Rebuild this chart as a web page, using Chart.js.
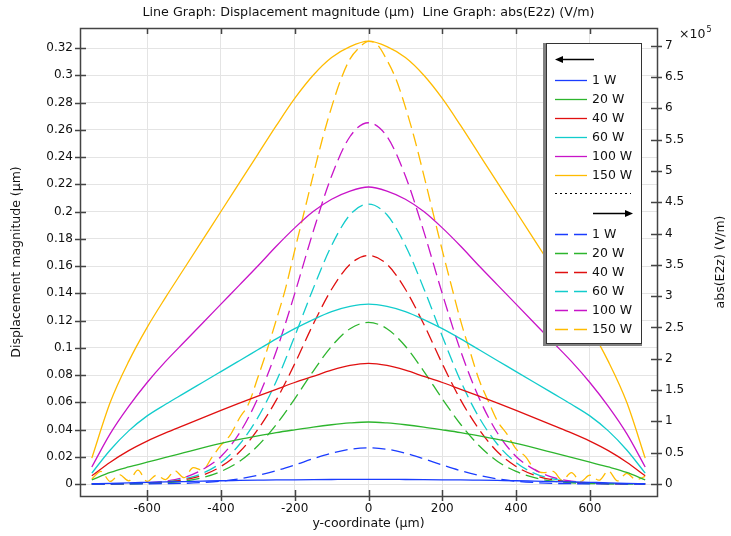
<!DOCTYPE html>
<html lang="en">
<head>
<meta charset="UTF-8">
<title>Line Graph: Displacement magnitude / abs(E2z)</title>
<script src="https://cdn.jsdelivr.net/npm/chart.js"></script>
<style>
  html, body { margin: 0; padding: 0; background: #fff; }
  #wrap { width: 731px; height: 536px; }
</style>
</head>
<body>
<div id="wrap"><canvas id="chart" width="731" height="536"></canvas></div>
<script>
// ---- data ----
const powers = ['1 W', '20 W', '40 W', '60 W', '100 W', '150 W'];
const colors = ['#1a3cff', '#2db52d', '#e01010', '#12cccc', '#c814c8', '#ffbb00'];

const yPos = [-750, -700, -650, -600, -550, -500, -450, -400, -350, -300, -250, -200, -150, -100, -50, 0,
              50, 100, 150, 200, 250, 300, 350, 400, 450, 500, 550, 600, 650, 700, 750];
const yPosFine = [-750, -725, -700, -675, -650, -625, -600, -575, -550, -525, -500, -475, -450, -425, -400, -375,
                  -350, -325, -300, -275, -250, -225, -200, -175, -150, -125, -100, -75, -50, -25, 0,
                  25, 50, 75, 100, 125, 150, 175, 200, 225, 250, 275, 300, 325, 350, 375, 400, 425, 450,
                  475, 500, 525, 550, 575, 600, 625, 650, 675, 700, 725, 750];

// displacement magnitude (um), left axis
const disp1W   = [0.0002, 0.0005, 0.0009, 0.0012, 0.0015, 0.0018, 0.0021, 0.0024, 0.0026, 0.0028, 0.0030, 0.0031, 0.0032, 0.0033, 0.0034, 0.0034,
                  0.0034, 0.0033, 0.0032, 0.0031, 0.0030, 0.0028, 0.0026, 0.0024, 0.0021, 0.0018, 0.0015, 0.0012, 0.0009, 0.0005, 0.0002];
const disp20W  = [0.003, 0.0085, 0.0125, 0.016, 0.0195, 0.023, 0.0265, 0.0298, 0.0327, 0.0353, 0.0377, 0.0398, 0.0418, 0.0435, 0.0448, 0.0455,
                  0.0448, 0.0435, 0.0418, 0.0398, 0.0377, 0.0353, 0.0327, 0.0298, 0.0265, 0.023, 0.0195, 0.016, 0.0125, 0.0085, 0.003];
const disp40W  = [0.006, 0.016, 0.0245, 0.0315, 0.0375, 0.043, 0.0485, 0.054, 0.0593, 0.0645, 0.0695, 0.0745, 0.079, 0.0835, 0.087, 0.0885,
                  0.087, 0.0835, 0.079, 0.0745, 0.0695, 0.0645, 0.0593, 0.054, 0.0485, 0.043, 0.0375, 0.0315, 0.0245, 0.016, 0.006];
const disp60W  = [0.008, 0.025, 0.039, 0.050, 0.0585, 0.0665, 0.0745, 0.0825, 0.0905, 0.0985, 0.1065, 0.114, 0.1207, 0.1265, 0.1303, 0.132,
                  0.1303, 0.1265, 0.1207, 0.114, 0.1065, 0.0985, 0.0905, 0.0825, 0.0745, 0.0665, 0.0585, 0.050, 0.039, 0.025, 0.008];
const disp100W = [0.0125, 0.037, 0.057, 0.0745, 0.090, 0.104, 0.118, 0.132, 0.146, 0.160, 0.1745, 0.188, 0.200, 0.209, 0.215, 0.218,
                  0.215, 0.209, 0.200, 0.188, 0.1745, 0.160, 0.146, 0.132, 0.118, 0.104, 0.090, 0.0745, 0.057, 0.037, 0.0125];
const disp150W = [0.019, 0.060, 0.090, 0.115, 0.137, 0.158, 0.179, 0.200, 0.221, 0.242, 0.263, 0.283, 0.300, 0.313, 0.321, 0.325,
                  0.321, 0.313, 0.300, 0.283, 0.263, 0.242, 0.221, 0.200, 0.179, 0.158, 0.137, 0.115, 0.090, 0.060, 0.019];

// abs(E2z) in units of 1e5 V/m, right axis
const e1W   = [0, 0, 0.001, 0.002, 0.005, 0.010, 0.023, 0.044, 0.081, 0.137, 0.212, 0.304, 0.403, 0.492, 0.555, 0.577,
               0.555, 0.492, 0.403, 0.304, 0.212, 0.137, 0.081, 0.044, 0.023, 0.010, 0.005, 0.002, 0.001, 0, 0];
const e20W  = [0, 0.001, 0.003, 0.008, 0.020, 0.046, 0.10, 0.20, 0.36, 0.61, 0.95, 1.36, 1.80, 2.20, 2.48, 2.58,
               2.48, 2.20, 1.80, 1.36, 0.95, 0.61, 0.36, 0.20, 0.10, 0.046, 0.020, 0.008, 0.003, 0.001, 0];
const e40W  = [0, 0.001, 0.004, 0.012, 0.029, 0.066, 0.14, 0.28, 0.51, 0.87, 1.34, 1.92, 2.55, 3.11, 3.51, 3.65,
               3.51, 3.11, 2.55, 1.92, 1.34, 0.87, 0.51, 0.28, 0.14, 0.066, 0.029, 0.012, 0.004, 0.001, 0];
const e60W  = [0, 0.002, 0.005, 0.014, 0.035, 0.080, 0.17, 0.34, 0.63, 1.06, 1.64, 2.36, 3.12, 3.81, 4.30, 4.47,
               4.30, 3.81, 3.12, 2.36, 1.64, 1.06, 0.63, 0.34, 0.17, 0.080, 0.035, 0.014, 0.005, 0.002, 0];
const e100W = [0.001, 0.002, 0.007, 0.018, 0.046, 0.104, 0.23, 0.44, 0.81, 1.37, 2.12, 3.04, 4.03, 4.92, 5.55, 5.77,
               5.55, 4.92, 4.03, 3.04, 2.12, 1.37, 0.81, 0.44, 0.23, 0.104, 0.046, 0.018, 0.007, 0.002, 0.001];
const e150W = [0.08, 0.20, 0.04, 0.15, 0.05, 0.22, 0.04, 0.14, 0.07, 0.21, 0.10, 0.26, 0.22, 0.42, 0.62, 0.78,
               1.05, 1.28, 1.70, 2.14, 2.62, 3.12, 3.73, 4.33, 4.93, 5.51, 6.02, 6.46, 6.79, 6.97, 7.07,
               7.01, 6.77, 6.46, 6.02, 5.51, 4.93, 4.33, 3.73, 3.16, 2.60, 2.12, 1.66, 1.32, 1.00, 0.80, 0.56, 0.44, 0.24,
               0.18, 0.20, 0.06, 0.18, 0.04, 0.14, 0.06, 0.21, 0.05, 0.17, 0.07, 0.12];

const xTicks = [-600, -400, -200, 0, 200, 400, 600];
const leftTicks = [0, 0.02, 0.04, 0.06, 0.08, 0.1, 0.12, 0.14, 0.16, 0.18, 0.2, 0.22, 0.24, 0.26, 0.28, 0.3, 0.32];
const rightTicks = [0, 0.5, 1, 1.5, 2, 2.5, 3, 3.5, 4, 4.5, 5, 5.5, 6, 6.5, 7];

const FONT = 'DejaVu Sans';
const DASH = [13, 6];

function pts(xs, ys) { return xs.map((x, i) => ({ x: x, y: ys[i] })); }

const solidSets = [disp1W, disp20W, disp40W, disp60W, disp100W, disp150W];
const dashSets = [e1W, e20W, e40W, e60W, e100W];

const datasets = [];
solidSets.forEach((d, i) => datasets.push({
    label: powers[i], data: pts(yPos, d), yAxisID: 'y',
    borderColor: colors[i], borderWidth: 1.3
}));
dashSets.forEach((d, i) => datasets.push({
    label: powers[i], data: pts(yPos, d), yAxisID: 'y1',
    borderColor: colors[i], borderWidth: 1.3, borderDash: DASH
}));
datasets.push({
    label: powers[5], data: pts(yPosFine, e150W), yAxisID: 'y1',
    borderColor: colors[5], borderWidth: 1.3, borderDash: DASH
});

// frame, inner ticks, titles and the boxed legend
const decor = {
    id: 'decor',
    afterDraw(chart) {
        const { ctx, chartArea: a, scales } = chart;
        ctx.save();
        ctx.strokeStyle = '#444';
        ctx.lineWidth = 1.5;
        ctx.beginPath();
        xTicks.forEach(v => {
            const px = Math.round(scales.x.getPixelForValue(v)) + 0.5;
            ctx.moveTo(px, a.bottom + 5); ctx.lineTo(px, a.bottom - 6);
            ctx.moveTo(px, a.top); ctx.lineTo(px, a.top + 6);
        });
        leftTicks.forEach(v => {
            const py = Math.round(scales.y.getPixelForValue(v)) + 0.5;
            ctx.moveTo(a.left - 5, py); ctx.lineTo(a.left + 6, py);
        });
        rightTicks.forEach(v => {
            const py = Math.round(scales.y1.getPixelForValue(v)) + 0.5;
            ctx.moveTo(a.right - 6, py); ctx.lineTo(a.right + 5, py);
        });
        ctx.stroke();
        ctx.strokeRect(a.left + 0.5, a.top + 0.5, a.right - a.left, a.bottom - a.top);

        // titles
        const cx = (a.left + a.right) / 2, cy = (a.top + a.bottom) / 2;
        ctx.fillStyle = '#111';
        ctx.textAlign = 'center';
        ctx.textBaseline = 'middle';
        ctx.font = '12.7px ' + FONT;
        ctx.fillText('Line Graph: Displacement magnitude (\u00b5m)  Line Graph: abs(E2z) (V/m)', cx, 13);
        ctx.font = '12.5px ' + FONT;
        ctx.fillText('y-coordinate (\u00b5m)', cx, 524);
        ctx.save();
        ctx.translate(17, cy); ctx.rotate(-Math.PI / 2);
        ctx.fillText('Displacement magnitude (\u00b5m)', 0, 0);
        ctx.restore();
        ctx.save();
        ctx.translate(721, cy); ctx.rotate(-Math.PI / 2);
        ctx.fillText('abs(E2z) (V/m)', 0, 0);
        ctx.restore();
        ctx.textAlign = 'left';
        ctx.fillText('\u00d710', 679, 35);
        const w = ctx.measureText('\u00d710').width;
        ctx.font = '8px ' + FONT;
        ctx.fillText('5', 679 + w + 1, 30);

        // legend box
        const L = 546, R = 642, T = 43, B = 343;
        ctx.fillStyle = '#808080';
        ctx.fillRect(L - 3, T, 3, B - T + 3);
        ctx.fillRect(L - 3, B, R - L + 3, 3);
        ctx.fillStyle = '#fff';
        ctx.fillRect(L, T, R - L, B - T);
        ctx.strokeStyle = '#333';
        ctx.lineWidth = 1;
        ctx.setLineDash([]);
        ctx.strokeRect(L + 0.5, T + 0.5, R - L - 1, B - T);

        function arrow(x1, x2, y) {
            const dir = Math.sign(x2 - x1);
            ctx.strokeStyle = '#000'; ctx.fillStyle = '#000'; ctx.lineWidth = 1.5;
            ctx.beginPath(); ctx.moveTo(x1, y); ctx.lineTo(x2 - dir * 6, y); ctx.stroke();
            ctx.beginPath();
            ctx.moveTo(x2, y); ctx.lineTo(x2 - dir * 8, y - 3.5); ctx.lineTo(x2 - dir * 8, y + 3.5);
            ctx.closePath(); ctx.fill();
        }
        arrow(594, 555, 59.5);
        arrow(593, 633, 213.5);

        ctx.font = '12.5px ' + FONT;
        ctx.textBaseline = 'middle';
        const rowsSolid = [80, 99, 118, 137, 156, 175];
        const rowsDash = [234, 253, 272, 291, 310, 329];
        powers.forEach((p, i) => {
            [[rowsSolid[i], []], [rowsDash[i], DASH]].forEach(([ry, dash]) => {
                ctx.strokeStyle = colors[i]; ctx.lineWidth = 1.3;
                ctx.setLineDash(dash);
                ctx.beginPath(); ctx.moveTo(555, ry + 0.5); ctx.lineTo(587, ry + 0.5); ctx.stroke();
                ctx.setLineDash([]);
                ctx.fillStyle = '#111';
                ctx.fillText(p, 592, ry + 1);
            });
        });
        ctx.strokeStyle = '#000'; ctx.lineWidth = 1;
        ctx.setLineDash([2, 3]);
        ctx.beginPath(); ctx.moveTo(555, 193.5); ctx.lineTo(631, 193.5); ctx.stroke();
        ctx.restore();
    }
};

Chart.defaults.font.family = FONT;
Chart.defaults.font.size = 12;
Chart.defaults.color = '#111';

new Chart(document.getElementById('chart'), {
    type: 'line',
    data: { datasets: datasets },
    options: {
        responsive: false,
        animation: false,
        devicePixelRatio: 1,
        layout: { padding: { top: 28, left: 0, right: 0, bottom: 0 } },
        elements: {
            point: { radius: 0, hoverRadius: 0 },
            line: { cubicInterpolationMode: 'monotone', fill: false }
        },
        plugins: { legend: { display: false }, tooltip: { enabled: false } },
        scales: {
            x: {
                type: 'linear', min: -782, max: 782,
                afterFit: s => { s.height = 40; },
                afterBuildTicks: s => { s.ticks = xTicks.map(v => ({ value: v })); },
                ticks: { callback: v => String(v), padding: 6, maxRotation: 0 },
                grid: { color: '#e4e4e4', lineWidth: 1, drawTicks: false },
                border: { display: false }
            },
            y: {
                type: 'linear', position: 'left', min: -0.0088, max: 0.3347,
                afterFit: s => { s.width = 80; },
                afterBuildTicks: s => { s.ticks = leftTicks.map(v => ({ value: v })); },
                ticks: { callback: v => String(v), padding: 7 },
                grid: { color: '#e4e4e4', lineWidth: 1, drawTicks: false },
                border: { display: false }
            },
            y1: {
                type: 'linear', position: 'right', min: -0.192, max: 7.283,
                afterFit: s => { s.width = 74; },
                afterBuildTicks: s => { s.ticks = rightTicks.map(v => ({ value: v })); },
                ticks: { callback: v => String(v), padding: 8 },
                grid: { display: false, drawTicks: false },
                border: { display: false }
            }
        }
    },
    plugins: [decor]
});
</script>
</body>
</html>
